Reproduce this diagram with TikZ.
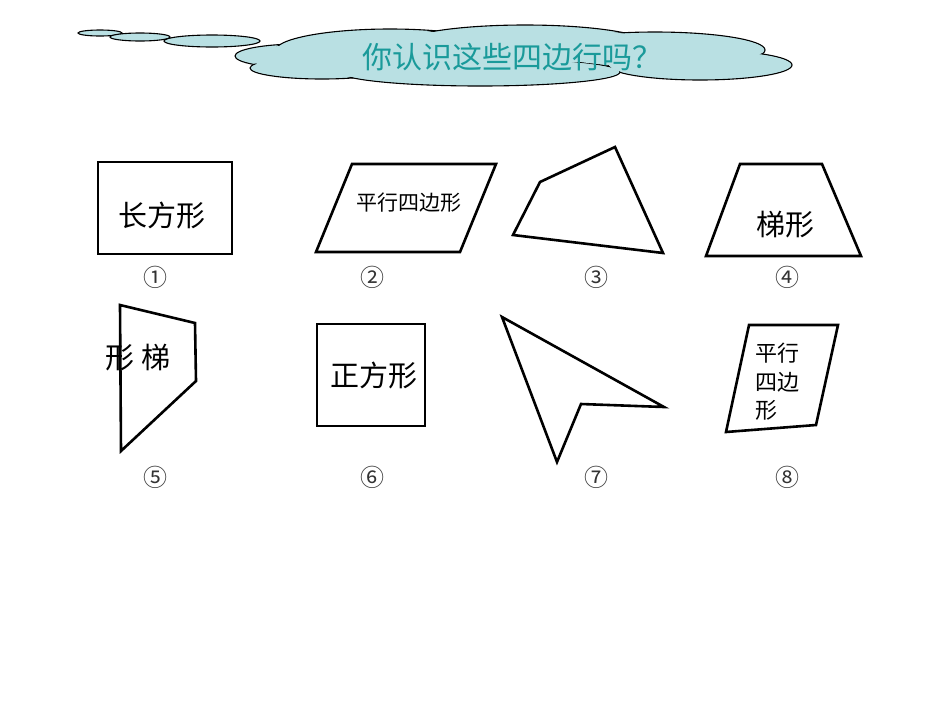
\documentclass[tikz,border=0pt]{standalone}
\usepackage{fontspec}
\newfontfamily\cjk{Noto Sans CJK SC}
\definecolor{cloudc}{HTML}{B9E0E3}
\definecolor{titlec}{HTML}{1A9A9A}
\begin{document}
\begin{tikzpicture}[x=1pt,y=-1pt,
  shp/.style={draw=black,line width=2.6pt,line join=miter},
  lab/.style={font=\cjk\fontsize{24}{24}\selectfont,text=black!80},
  txt/.style={font=\cjk\fontsize{29}{29}\selectfont}]
\useasboundingbox (0,0) rectangle (950,713);
% cloud
\foreach \c/\rx/\ry in {{(100,33)}/22/3,{(140,37)}/30/4,{(212,41)}/48/6,{(300,56)}/65/12,{(322,68)}/72/11,{(390,51)}/115/22,{(525,45)}/125/20,{(655,50)}/110/18,{(700,65)}/92/15,{(480,72)}/140/14}
  {\draw[line width=1.1pt,fill=cloudc] \c ellipse ({\rx} and {\ry});}
\foreach \c/\rx/\ry in {{(300,56)}/65/12,{(322,68)}/72/11,{(390,51)}/115/22,{(525,45)}/125/20,{(655,50)}/110/18,{(700,65)}/92/15,{(480,72)}/140/14}
  {\fill[cloudc] \c ellipse ({\rx-1.5} and {\ry-1.5});}
\node[font=\cjk\fontsize{30}{30}\selectfont,text=titlec] (title) at (512,57) {你认识这些四边行吗？};
% shapes
\draw[shp] (98,162) rectangle (232,254);
\node[txt] (t1) at (162,215) {长方形};
\draw[shp] (316,252) -- (352,164) -- (496,164) -- (460,252) -- cycle;
\node[font=\cjk\fontsize{21}{21}\selectfont] (t2) at (409,203) {平行四边形};
\draw[shp] (513,235) -- (540,182) -- (615,147) -- (663,253) -- cycle;
\draw[shp] (706,256) -- (740,164) -- (822,164) -- (861,256) -- cycle;
\node[txt] (t4) at (785,225) {梯形};
\draw[shp] (120,305) -- (195,323) -- (196,381) -- (121,451) -- cycle;
\node[txt] (t5) at (138,358) {形 梯};
\draw[shp] (317,324) rectangle (425,426);
\node[txt] (t6) at (374,375) {正方形};
\draw[shp] (502,317) -- (664,407) -- (581,404) -- (557,462) -- cycle;
\draw[shp] (749,325) -- (838,325) -- (816,425) -- (726,432) -- cycle;
\node[font=\cjk\fontsize{22}{22}\selectfont,anchor=west] (t8a) at (752,353) {平行};
\node[font=\cjk\fontsize{22}{22}\selectfont,anchor=west] (t8b) at (752,382) {四边};
\node[font=\cjk\fontsize{22}{22}\selectfont,anchor=west] (t8c) at (752,410) {形};
% labels
\node[lab] (l1) at (155,277) {①};
\node[lab] (l2) at (372,277) {②};
\node[lab] (l3) at (596,277) {③};
\node[lab] (l4) at (787,277) {④};
\node[lab] (l5) at (155,477) {⑤};
\node[lab] (l6) at (372,477) {⑥};
\node[lab] (l7) at (596,477) {⑦};
\node[lab] (l8) at (787,477) {⑧};
\end{tikzpicture}
\end{document}
